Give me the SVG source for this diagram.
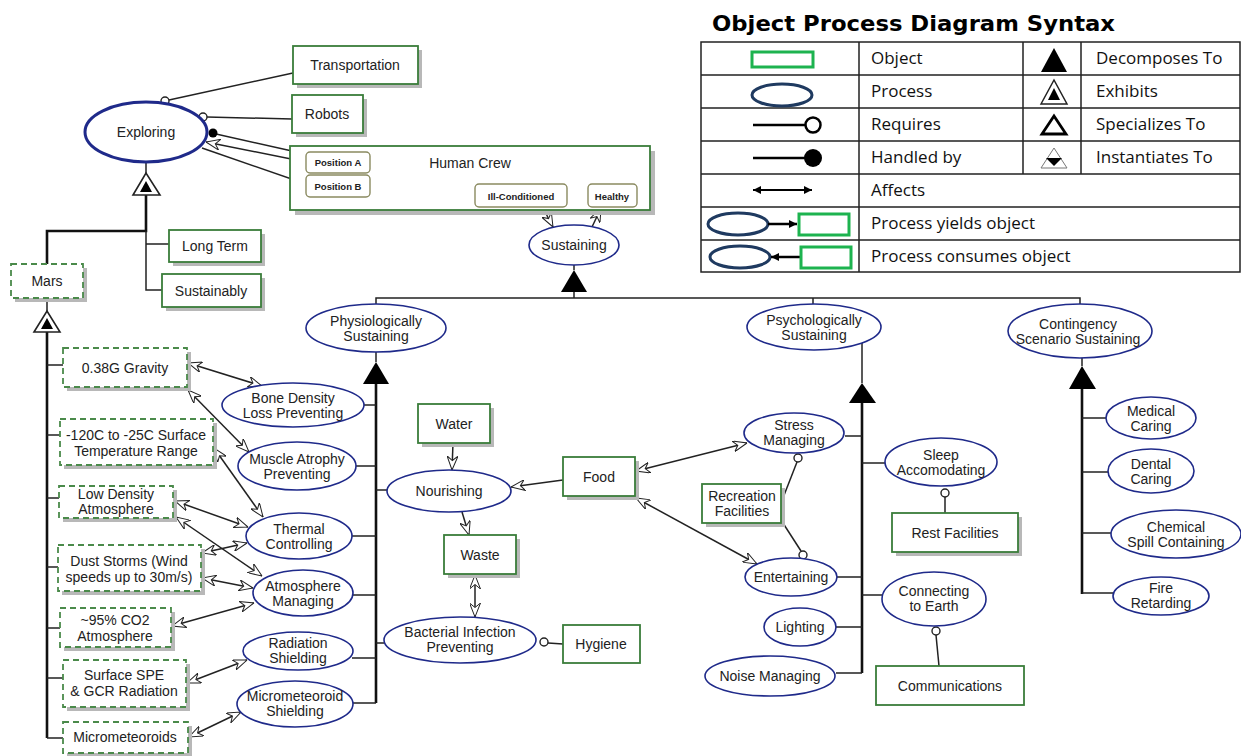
<svg xmlns="http://www.w3.org/2000/svg" width="1241" height="756" viewBox="0 0 1241 756">
<style>
text{font-family:"Liberation Sans",Arial,sans-serif;font-size:14px;fill:#222;text-anchor:middle}
.proc{fill:#fff;stroke:#1f2a8a;stroke-width:1.6}
.obj{fill:#fff;stroke:#3a7d3a;stroke-width:1.8}
.env{fill:#fff;stroke:#4a8a4a;stroke-width:1.8;stroke-dasharray:6,4}
.sh{fill:#b8b8b8}
.st{fill:#fff;stroke:#8a8a60;stroke-width:1.4}
.stt{font-size:9.5px;font-weight:bold}
.ln{fill:none;stroke:#222;stroke-width:1.5}
.thk{fill:none;stroke:#111;stroke-width:2.6}
.aff{fill:none;stroke:#222;stroke-width:1.5;marker-start:url(#oa);marker-end:url(#oa)}
.one{fill:none;stroke:#222;stroke-width:1.5;marker-end:url(#oa)}
.req{fill:#fff;stroke:#222;stroke-width:1.4}
.lg{font-family:"Open Sans","Liberation Sans",sans-serif;font-size:17px;text-anchor:start;fill:#111}
.tl{fill:none;stroke:#222;stroke-width:1.5}
</style>
<defs>
<marker id="oa" viewBox="0 0 14 11" refX="14" refY="5.5" markerWidth="14" markerHeight="11" markerUnits="userSpaceOnUse" orient="auto-start-reverse"><path d="M0,0 L14,5.5 L0,11 L4.5,5.5 Z" fill="#fff" stroke="#222" stroke-width="1"/></marker>
<marker id="fa" viewBox="0 0 8 8" refX="8" refY="4" markerWidth="8" markerHeight="8" markerUnits="userSpaceOnUse" orient="auto-start-reverse"><path d="M0,0 L8,4 L0,8 Z" fill="#000"/></marker>
</defs>

<g id="connectors">
<line class="ln" x1="169" y1="100" x2="293" y2="73"/>
<line class="ln" x1="207" y1="117" x2="292" y2="119"/>
<line class="ln" x1="216" y1="134" x2="292" y2="151"/>
<line class="one" x1="306" y1="162" x2="206" y2="142"/>
<line class="one" x1="202" y1="148" x2="306" y2="184"/>
<line class="one" x1="543" y1="208" x2="553" y2="227"/>
<line class="one" x1="592" y1="227" x2="601" y2="208"/>
<line class="tl" x1="146" y1="162" x2="146" y2="173"/>
<path class="thk" d="M146,195 V231 H47 V264"/>
<path class="ln" d="M146,231 V290 H162 M146,244 H169"/>
<line class="tl" x1="47" y1="298" x2="47" y2="311"/>
<path class="thk" d="M47,332 V738"/>
<path class="ln" d="M47,365 H63 M47,435 H60 M47,498 H59 M47,567 H58 M47,628 H60 M47,678 H63 M47,738 H63"/>
<line class="aff" x1="188" y1="363" x2="262" y2="386"/>
<line class="aff" x1="188" y1="390" x2="249" y2="452"/>
<line class="aff" x1="214" y1="448" x2="263" y2="517"/>
<line class="aff" x1="175" y1="501" x2="248" y2="527"/>
<line class="aff" x1="176" y1="517" x2="262" y2="576"/>
<line class="aff" x1="202" y1="553" x2="247" y2="543"/>
<line class="aff" x1="202" y1="578" x2="253" y2="588"/>
<line class="aff" x1="172" y1="626" x2="254" y2="603"/>
<line class="aff" x1="187" y1="683" x2="247" y2="660"/>
<line class="aff" x1="189" y1="737" x2="241" y2="712"/>
<line class="tl" x1="574" y1="265" x2="574" y2="270"/>
<path class="ln" d="M574,292 V298 M376,304 V298 H1080 V304 M813,298 V304"/>
<line class="tl" x1="376" y1="352" x2="376" y2="362"/>
<path class="thk" d="M376,384 V703"/>
<path class="ln" d="M364,405 H376 M355,466 H376 M376,490 H388 M351,536 H376 M353,595 H376 M376,643 H385 M352,658 H376 M353,703 H376"/>
<line class="one" x1="453" y1="443" x2="452" y2="470"/>
<line class="one" x1="563" y1="480" x2="511" y2="487"/>
<line class="one" x1="462" y1="512" x2="469" y2="535"/>
<line class="aff" x1="475" y1="575" x2="475" y2="617"/>
<line class="ln" x1="548" y1="643" x2="563" y2="644"/>
<line class="tl" x1="862" y1="343" x2="862" y2="383"/>
<path class="thk" d="M862,403 V673"/>
<path class="ln" d="M845,436 H862 M862,463 H885 M837,577 H862 M862,595 H882 M836,627 H862 M836,673 H862"/>
<line class="aff" x1="636" y1="471" x2="747" y2="443"/>
<line class="aff" x1="636" y1="498" x2="757" y2="564"/>
<line class="ln" x1="797" y1="462" x2="781" y2="503"/>
<line class="ln" x1="801" y1="551" x2="781" y2="520"/>
<line class="ln" x1="945" y1="497" x2="945" y2="513"/>
<line class="ln" x1="936" y1="635" x2="939" y2="666"/>
<line class="tl" x1="1082" y1="358" x2="1082" y2="366"/>
<path class="thk" d="M1082,389 V594"/>
<path class="ln" d="M1082,418 H1107 M1082,472 H1108 M1082,533 H1111 M1082,593 H1113"/>
</g>

<g id="decomp-symbols">
<polygon points="133,195 146,173 160,195" fill="#fff" stroke="#222" stroke-width="1.6"/>
<polygon points="140,192 146,181 152,192" fill="#000"/>
<polygon points="34,332 47,311 60,332" fill="#fff" stroke="#222" stroke-width="1.6"/>
<polygon points="41,329 47,318 53,329" fill="#000"/>
<polygon points="561,292 574,270 587,292" fill="#000"/>
<polygon points="363,384 376,362 389,384" fill="#000"/>
<polygon points="849,403 862,383 876,403" fill="#000"/>
<polygon points="1069,389 1082,366 1096,389" fill="#000"/>
</g>

<g id="requires-handles">
<circle class="req" cx="165" cy="101" r="4"/>
<circle class="req" cx="203" cy="117" r="4"/>
<circle cx="213" cy="133" r="4.5" fill="#000"/>
<circle class="req" cx="544" cy="642" r="4"/>
<circle class="req" cx="798" cy="458" r="4"/>
<circle class="req" cx="803" cy="555" r="4"/>
<circle class="req" cx="945" cy="493" r="4"/>
<circle class="req" cx="936" cy="631" r="4"/>
</g>

<g id="exploring"><ellipse cx="146" cy="132" rx="61" ry="30" fill="#fff" stroke="#1f2a8a" stroke-width="3"/><text x="146" y="137">Exploring</text></g>
<g id="transportation"><rect class="sh" x="297" y="50" width="125" height="38"/><rect class="obj" x="293" y="46" width="125" height="38"/><text x="355" y="70">Transportation</text></g>
<g id="robots"><rect class="sh" x="296" y="99" width="71" height="38"/><rect class="obj" x="292" y="95" width="71" height="38"/><text x="327" y="119">Robots</text></g>
<g id="human-crew"><rect class="sh" x="295" y="151" width="360" height="64"/><rect class="obj" x="290" y="146" width="360" height="64"/><text x="470" y="168">Human Crew</text>
<rect class="st" x="306" y="152" width="64" height="21" rx="4"/><text class="stt" x="338" y="166">Position A</text>
<rect class="st" x="306" y="175" width="64" height="22" rx="4"/><text class="stt" x="338" y="190">Position B</text>
<rect class="st" x="475" y="184" width="92" height="23" rx="4"/><text class="stt" x="521" y="200">Ill-Conditioned</text>
<rect class="st" x="588" y="184" width="49" height="23" rx="4"/><text class="stt" x="612" y="200">Healthy</text></g>
<g id="sustaining"><ellipse class="proc" cx="574" cy="245" rx="45" ry="20"/><text x="574" y="250">Sustaining</text></g>
<g id="long-term"><rect class="sh" x="173" y="234" width="92" height="32"/><rect class="obj" x="169" y="230" width="92" height="32"/><text x="215" y="251">Long Term</text></g>
<g id="sustainably"><rect class="sh" x="166" y="278" width="99" height="33"/><rect class="obj" x="162" y="274" width="99" height="33"/><text x="211" y="296">Sustainably</text></g>

<g id="mars"><rect class="sh" x="15" y="268" width="72" height="34"/><rect class="env" x="11" y="264" width="72" height="34"/><text x="47" y="286">Mars</text></g>
<g id="gravity"><rect class="sh" x="67" y="352" width="124" height="39"/><rect class="env" x="63" y="348" width="124" height="39"/><text x="125" y="373">0.38G Gravity</text></g>
<g id="temperature"><rect class="sh" x="64" y="423" width="153" height="46"/><rect class="env" x="60" y="419" width="153" height="46"/><text x="136" y="440">-120C to -25C Surface</text><text x="136" y="456">Temperature Range</text></g>
<g id="low-density"><rect class="sh" x="63" y="490" width="114" height="32"/><rect class="env" x="59" y="486" width="114" height="32"/><text x="116" y="499">Low Density</text><text x="116" y="514">Atmosphere</text></g>
<g id="dust-storms"><rect class="sh" x="62" y="549" width="143" height="46"/><rect class="env" x="58" y="545" width="143" height="46"/><text x="129" y="566">Dust Storms (Wind</text><text x="129" y="582">speeds up to 30m/s)</text></g>
<g id="co2"><rect class="sh" x="64" y="612" width="111" height="39"/><rect class="env" x="60" y="608" width="111" height="39"/><text x="115" y="625">~95% CO2</text><text x="115" y="641">Atmosphere</text></g>
<g id="radiation-env"><rect class="sh" x="67" y="664" width="123" height="47"/><rect class="env" x="63" y="660" width="123" height="47"/><text x="124" y="680">Surface SPE</text><text x="124" y="696">&amp; GCR Radiation</text></g>
<g id="micrometeoroids"><rect class="sh" x="67" y="726" width="125" height="30"/><rect class="env" x="63" y="722" width="125" height="31"/><text x="125" y="742">Micrometeoroids</text></g>

<g id="physiologically"><ellipse class="proc" cx="376" cy="328" rx="70" ry="24"/><text x="376" y="326">Physiologically</text><text x="376" y="341">Sustaining</text></g>
<g id="bone"><ellipse class="proc" cx="293" cy="405" rx="71" ry="22"/><text x="293" y="403">Bone Density</text><text x="293" y="418">Loss Preventing</text></g>
<g id="muscle"><ellipse class="proc" cx="297" cy="466" rx="59" ry="24"/><text x="297" y="464">Muscle Atrophy</text><text x="297" y="479">Preventing</text></g>
<g id="thermal"><ellipse class="proc" cx="299" cy="536" rx="53" ry="23"/><text x="299" y="534">Thermal</text><text x="299" y="549">Controlling</text></g>
<g id="atmosphere"><ellipse class="proc" cx="303" cy="593" rx="50" ry="23"/><text x="303" y="591">Atmosphere</text><text x="303" y="606">Managing</text></g>
<g id="radiation"><ellipse class="proc" cx="298" cy="651" rx="55" ry="19"/><text x="298" y="648">Radiation</text><text x="298" y="663">Shielding</text></g>
<g id="micro-shield"><ellipse class="proc" cx="295" cy="704" rx="58" ry="23"/><text x="295" y="701">Micrometeoroid</text><text x="295" y="716">Shielding</text></g>
<g id="nourishing"><ellipse class="proc" cx="449" cy="491" rx="62" ry="21"/><text x="449" y="496">Nourishing</text></g>
<g id="water"><rect class="sh" x="422" y="408" width="72" height="39"/><rect class="obj" x="418" y="404" width="72" height="39"/><text x="454" y="429">Water</text></g>
<g id="food"><rect class="sh" x="567" y="461" width="72" height="39"/><rect class="obj" x="563" y="457" width="72" height="39"/><text x="599" y="482">Food</text></g>
<g id="waste"><rect class="sh" x="448" y="539" width="72" height="39"/><rect class="obj" x="444" y="535" width="72" height="39"/><text x="480" y="560">Waste</text></g>
<g id="bacterial"><ellipse class="proc" cx="460" cy="640" rx="76" ry="23"/><text x="460" y="637">Bacterial Infection</text><text x="460" y="652">Preventing</text></g>
<g id="hygiene"><rect class="obj" x="563" y="625" width="77" height="38"/><text x="601" y="649">Hygiene</text></g>

<g id="psychologically"><ellipse class="proc" cx="814" cy="327" rx="67" ry="23"/><text x="814" y="325">Psychologically</text><text x="814" y="340">Sustaining</text></g>
<g id="stress"><ellipse class="proc" cx="794" cy="433" rx="50" ry="20"/><text x="794" y="430">Stress</text><text x="794" y="445">Managing</text></g>
<g id="sleep"><ellipse class="proc" cx="941" cy="462" rx="56" ry="24"/><text x="941" y="460">Sleep</text><text x="941" y="475">Accomodating</text></g>
<g id="rest"><rect class="sh" x="896" y="517" width="126" height="39"/><rect class="obj" x="892" y="513" width="126" height="39"/><text x="955" y="538">Rest Facilities</text></g>
<g id="recreation"><rect class="sh" x="706" y="488" width="79" height="39"/><rect class="obj" x="702" y="484" width="79" height="39"/><text x="742" y="501">Recreation</text><text x="742" y="516">Facilities</text></g>
<g id="entertaining"><ellipse class="proc" cx="791" cy="577" rx="46" ry="19"/><text x="791" y="582">Entertaining</text></g>
<g id="connecting"><ellipse class="proc" cx="934" cy="599" rx="52" ry="27"/><text x="934" y="596">Connecting</text><text x="934" y="611">to Earth</text></g>
<g id="communications"><rect class="obj" x="876" y="666" width="148" height="39"/><text x="950" y="691">Communications</text></g>
<g id="lighting"><ellipse class="proc" cx="800" cy="627" rx="36" ry="19"/><text x="800" y="632">Lighting</text></g>
<g id="noise"><ellipse class="proc" cx="770" cy="676" rx="65" ry="20"/><text x="770" y="681">Noise Managing</text></g>

<g id="contingency"><ellipse class="proc" cx="1080" cy="331" rx="72" ry="27"/><text x="1078" y="329">Contingency</text><text x="1078" y="344">Scenario Sustaining</text></g>
<g id="medical"><ellipse class="proc" cx="1151" cy="418" rx="45" ry="21"/><text x="1151" y="416">Medical</text><text x="1151" y="431">Caring</text></g>
<g id="dental"><ellipse class="proc" cx="1151" cy="471" rx="43" ry="22"/><text x="1151" y="469">Dental</text><text x="1151" y="484">Caring</text></g>
<g id="chemical"><ellipse class="proc" cx="1176" cy="534" rx="65" ry="24"/><text x="1176" y="532">Chemical</text><text x="1176" y="547">Spill Containing</text></g>
<g id="fire"><ellipse class="proc" cx="1161" cy="596" rx="48" ry="19"/><text x="1161" y="593">Fire</text><text x="1161" y="608">Retarding</text></g>

<g id="legend">
<text x="712" y="31" style="font-family:'DejaVu Sans','Liberation Sans',sans-serif;font-size:21px;font-weight:bold;text-anchor:start;fill:#000" textLength="403" lengthAdjust="spacingAndGlyphs">Object Process Diagram Syntax</text>
<g fill="none" stroke="#222" stroke-width="1.5">
<rect x="701" y="42" width="539" height="230"/>
<path d="M701,75 H1240 M701,108 H1240 M701,141 H1240 M701,174 H1240 M701,207 H1240 M701,240 H1240 M859,42 V272 M1023,42 V174 M1081,42 V174"/>
</g>
<rect x="752" y="52" width="61" height="15" fill="none" stroke="#1db34f" stroke-width="3"/>
<ellipse cx="782" cy="95" rx="30" ry="11" fill="none" stroke="#1f3a60" stroke-width="3"/>
<line x1="753" y1="125" x2="805" y2="125" stroke="#000" stroke-width="2.5"/><circle cx="813" cy="125" r="7.5" fill="#fff" stroke="#000" stroke-width="2.5"/>
<line x1="753" y1="158" x2="805" y2="158" stroke="#000" stroke-width="2.5"/><circle cx="813" cy="158" r="9" fill="#000"/>
<line x1="753" y1="190" x2="812" y2="190" stroke="#000" stroke-width="1.8" marker-start="url(#fa)" marker-end="url(#fa)"/>
<ellipse cx="738" cy="224" rx="30" ry="11" fill="none" stroke="#1f3a60" stroke-width="3"/>
<line x1="768" y1="224" x2="797" y2="224" stroke="#000" stroke-width="2.5" marker-end="url(#fa)"/>
<rect x="799" y="214" width="50" height="21" fill="none" stroke="#1db34f" stroke-width="3"/>
<ellipse cx="740" cy="257" rx="30" ry="11" fill="none" stroke="#1f3a60" stroke-width="3"/>
<line x1="800" y1="257" x2="771" y2="257" stroke="#000" stroke-width="2.5" marker-end="url(#fa)"/>
<rect x="801" y="247" width="50" height="21" fill="none" stroke="#1db34f" stroke-width="3"/>
<polygon points="1041,72 1054,48 1067,72" fill="#000"/>
<polygon points="1041,104 1054,80 1067,104" fill="#fff" stroke="#222" stroke-width="1.5"/>
<polygon points="1048,100 1054,88 1060,100" fill="#000"/>
<polygon points="1042,134 1054,116 1066,134" fill="#fff" stroke="#000" stroke-width="2.8"/>
<polygon points="1041,168 1054,148 1067,168" fill="#fff" stroke="#777" stroke-width="1"/>
<polygon points="1046,158 1062,158 1054,166" fill="#000"/>
<text class="lg" x="871" y="64">Object</text>
<text class="lg" x="871" y="97">Process</text>
<text class="lg" x="871" y="130">Requires</text>
<text class="lg" x="871" y="163">Handled by</text>
<text class="lg" x="871" y="196">Affects</text>
<text class="lg" x="871" y="229">Process yields object</text>
<text class="lg" x="871" y="262">Process consumes object</text>
<text class="lg" x="1096" y="64">Decomposes To</text>
<text class="lg" x="1096" y="97">Exhibits</text>
<text class="lg" x="1096" y="130">Specializes To</text>
<text class="lg" x="1096" y="163">Instantiates To</text>
</g>
</svg>
